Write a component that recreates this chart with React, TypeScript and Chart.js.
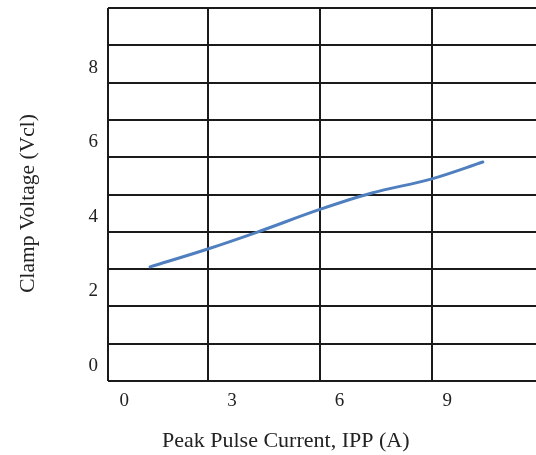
import { useEffect, useRef } from 'react';
import { Chart, registerables } from 'chart.js';

Chart.register(...registerables);

// Series
const currentA = [0.72, 2.33, 3.73, 5.45, 6.9, 8.57, 9.99];
const clampV = [2.66, 3.14, 3.6, 4.2, 4.64, 5.02, 5.47];

// Tick labels
const xTickLabels = [0, 3, 6, 9];
const yTickLabels = [0, 2, 4, 6, 8];

// Grid line values (the grid in the reference is offset from the labels)
const xGrid = [-0.45, 2.33, 5.45, 8.57];
const yGrid = [-0.4, 0.6, 1.6, 2.6, 3.6, 4.6, 5.6, 6.6, 7.6, 8.6, 9.6];

const xRange = [-0.45, 11.47];
const yRange = [-0.4, 9.6];

const X_TITLE = 'Peak Pulse Current, IPP (A)';
const Y_TITLE = 'Clamp Voltage (Vcl)';

const FONT = '"Liberation Serif", "Times New Roman", serif';
const near = (v: number, list: number[]) => list.some((a) => Math.abs(a - v) < 1e-6);

const axisTitles = {
  id: 'axisTitles',
  afterDraw(chart: any) {
    const { ctx, chartArea, scales } = chart;
    ctx.save();
    ctx.fillStyle = '#222';
    ctx.textAlign = 'center';
    ctx.textBaseline = 'middle';
    const xs = scales.x;
    const cx =
      (xs.getPixelForValue(xTickLabels[0]) +
        xs.getPixelForValue(xTickLabels[xTickLabels.length - 1])) / 2;
    ctx.font = `22px ${FONT}`;
    ctx.fillText(X_TITLE, cx, chartArea.bottom + 60);
    ctx.font = `21.5px ${FONT}`;
    ctx.translate(28, (chartArea.top + chartArea.bottom) / 2 + 9);
    ctx.rotate(-Math.PI / 2);
    ctx.fillText(Y_TITLE, 0, 0);
    ctx.restore();
  },
};

export default function App() {
  const ref = useRef<HTMLCanvasElement | null>(null);

  useEffect(() => {
    document.body.style.margin = '0';
    const canvas = ref.current;
    if (!canvas) return;
    const chart = new Chart(canvas, {
      type: 'line',
      data: {
        datasets: [
          {
            data: currentA.map((x, i) => ({ x, y: clampV[i] })),
            borderColor: '#4f7fbf',
            borderWidth: 3,
            pointRadius: 0,
            cubicInterpolationMode: 'monotone',
            borderCapStyle: 'round',
            fill: false,
          },
        ],
      },
      options: {
        animation: false,
        responsive: false,
        maintainAspectRatio: false,
        layout: { padding: { top: 8, left: 0, right: 0, bottom: 0 } },
        plugins: {
          legend: { display: false },
          tooltip: { enabled: false },
          title: { display: false },
        },
        scales: {
          x: {
            type: 'linear',
            min: xRange[0],
            max: xRange[1],
            afterBuildTicks: (s: any) => {
              s.ticks = [...xGrid, ...xTickLabels]
                .sort((a, b) => a - b)
                .map((v) => ({ value: v }));
            },
            afterFit: (s: any) => {
              s.height = 74;
              s.paddingLeft = 0;
              s.paddingRight = 0;
            },
            ticks: {
              autoSkip: false,
              maxRotation: 0,
              padding: 9,
              color: '#222',
              font: { family: FONT, size: 19 },
              callback: (v: any) => (near(Number(v), xTickLabels) ? String(v) : ''),
            },
            grid: {
              drawTicks: false,
              lineWidth: 2,
              color: (c: any) =>
                c.tick && near(c.tick.value, xGrid) ? '#1a1a1a' : 'rgba(0,0,0,0)',
            },
            border: { display: false },
          },
          y: {
            type: 'linear',
            min: yRange[0],
            max: yRange[1],
            afterBuildTicks: (s: any) => {
              s.ticks = [...yGrid, ...yTickLabels]
                .sort((a, b) => a - b)
                .map((v) => ({ value: v }));
            },
            afterFit: (s: any) => {
              s.width = 108;
              s.paddingTop = 0;
              s.paddingBottom = 0;
            },
            ticks: {
              autoSkip: false,
              padding: 10,
              color: '#222',
              font: { family: FONT, size: 19 },
              callback: (v: any) => (near(Number(v), yTickLabels) ? String(v) : ''),
            },
            grid: {
              drawTicks: false,
              lineWidth: 2,
              color: (c: any) =>
                c.tick && near(c.tick.value, yGrid) ? '#1a1a1a' : 'rgba(0,0,0,0)',
            },
            border: { display: false },
          },
        },
      },
      plugins: [axisTitles],
    } as any);
    return () => chart.destroy();
  }, []);

  return (
    <div style={{ width: 536, height: 455, background: '#fff' }}>
      <canvas ref={ref} width={536} height={455} style={{ display: 'block', width: 536, height: 455 }} />
    </div>
  );
}
